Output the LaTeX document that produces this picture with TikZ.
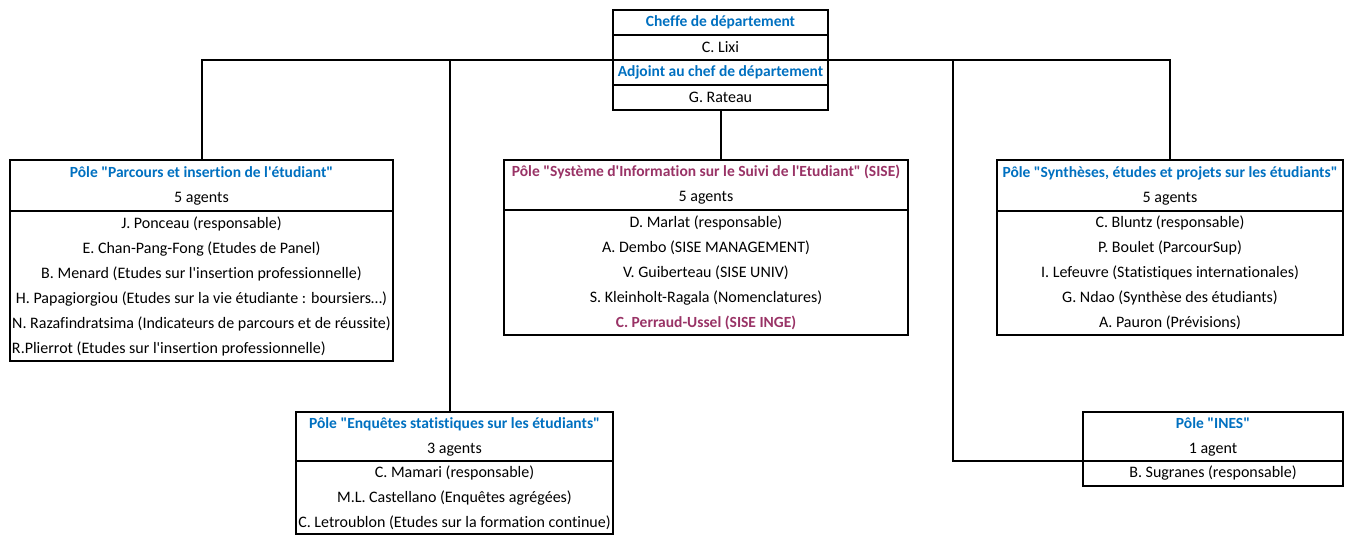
\documentclass[tikz,border=0pt]{standalone}
\usepackage{fontspec}
\setmainfont{Carlito}[Ligatures={TeXOff,CommonOff}]
\usetikzlibrary{positioning}
\definecolor{bleu}{RGB}{0,112,192}
\definecolor{prune}{RGB}{153,51,102}
\tikzset{
    cellule/.style = {rectangle, draw=black, line width=2pt, inner sep=0pt, outer sep=0pt, anchor=north west, align=center, font=\fontsize{16}{25}\selectfont},
    rang/.style = {cellule, minimum width=215pt, minimum height=25pt},
    lien/.style = {line width=2pt, draw=black},
}
\newcommand{\T}[1]{\textcolor{bleu}{\fontsize{15.5}{25}\selectfont\bfseries #1}}
\newcommand{\Tp}[1]{\textcolor{prune}{\fontsize{15.5}{25}\selectfont\bfseries #1}}

\begin{document}
\begin{tikzpicture}[x=1pt,y=-1pt]
\useasboundingbox (0,0) rectangle (1351,536);
% direction
\node[rang] at (613,10) (cheffe) {\T{Cheffe de département}};
\node[rang, below=0pt of cheffe] (lixi) {C. Lixi};
\node[rang, below=0pt of lixi] (adjoint) {\T{Adjoint au chef de département}};
\node[rang, below=0pt of adjoint] (rateau) {G. Rateau};
%
% poles
\node[cellule, minimum width=383pt, minimum height=51pt] at (10,160) (parcours) {\T{Pôle "Parcours et insertion de l'étudiant"}\\5 agents};
\node[cellule, minimum width=383pt, minimum height=150pt, below=0pt of parcours] (parcoursb) {J. Ponceau (responsable)\\E. Chan-Pang-Fong (Etudes de Panel)\\B. Menard (Etudes sur l'insertion professionnelle)\\H. Papagiorgiou (Etudes sur la vie étudiante : boursiers…)\\N. Razafindratsima (Indicateurs de parcours et de réussite)\\\makebox[379pt][l]{R.Plierrot (Etudes sur l'insertion professionnelle)}};
\node[cellule, minimum width=404pt, minimum height=50pt] at (504,160) (sise) {\Tp{Pôle "Système d'Information sur le Suivi de l'Etudiant" (SISE)}\\5 agents};
\node[cellule, minimum width=404pt, minimum height=125pt, below=0pt of sise] (siseb) {D. Marlat (responsable)\\A. Dembo (SISE MANAGEMENT)\\V. Guiberteau (SISE UNIV)\\S. Kleinholt-Ragala (Nomenclatures)\\\Tp{C. Perraud-Ussel (SISE INGE)}};
\node[cellule, minimum width=346pt, minimum height=51pt] at (997,160) (syntheses) {\T{Pôle "Synthèses, études et projets sur les étudiants"}\\5 agents};
\node[cellule, minimum width=346pt, minimum height=124pt, below=0pt of syntheses] (synthesesb) {C. Bluntz (responsable)\\P. Boulet (ParcourSup)\\I. Lefeuvre (Statistiques internationales)\\G. Ndao (Synthèse des étudiants)\\A. Pauron (Prévisions)};
\node[cellule, minimum width=317pt, minimum height=49pt] at (296,412) (enquetes) {\T{Pôle "Enquêtes statistiques sur les étudiants"}\\3 agents};
\node[cellule, minimum width=317pt, minimum height=73pt, below=0pt of enquetes] (enquetesb) {C. Mamari (responsable)\\M.L. Castellano (Enquêtes agrégées)\\C. Letroublon (Etudes sur la formation continue)};
\node[cellule, minimum width=260pt, minimum height=49pt] at (1083,412) (ines) {\T{Pôle "INES"}\\1 agent};
\node[cellule, minimum width=260pt, minimum height=25pt, below=0pt of ines] (inesb) {B. Sugranes (responsable)};
%
% liens
\coordinate (coude) at (953,60);
\draw[lien] (parcours.north) |- (adjoint.north west);
\draw[lien] (adjoint.north east) -| (syntheses.north);
\draw[lien] ([xshift=-5pt]enquetes.north) -- ([xshift=-5pt]enquetes.north |- adjoint.north);
\draw[lien] (ines.south west) -| (coude);
\draw[lien] (rateau.south) -- (rateau.south |- sise.north);
\end{tikzpicture}
\end{document}
